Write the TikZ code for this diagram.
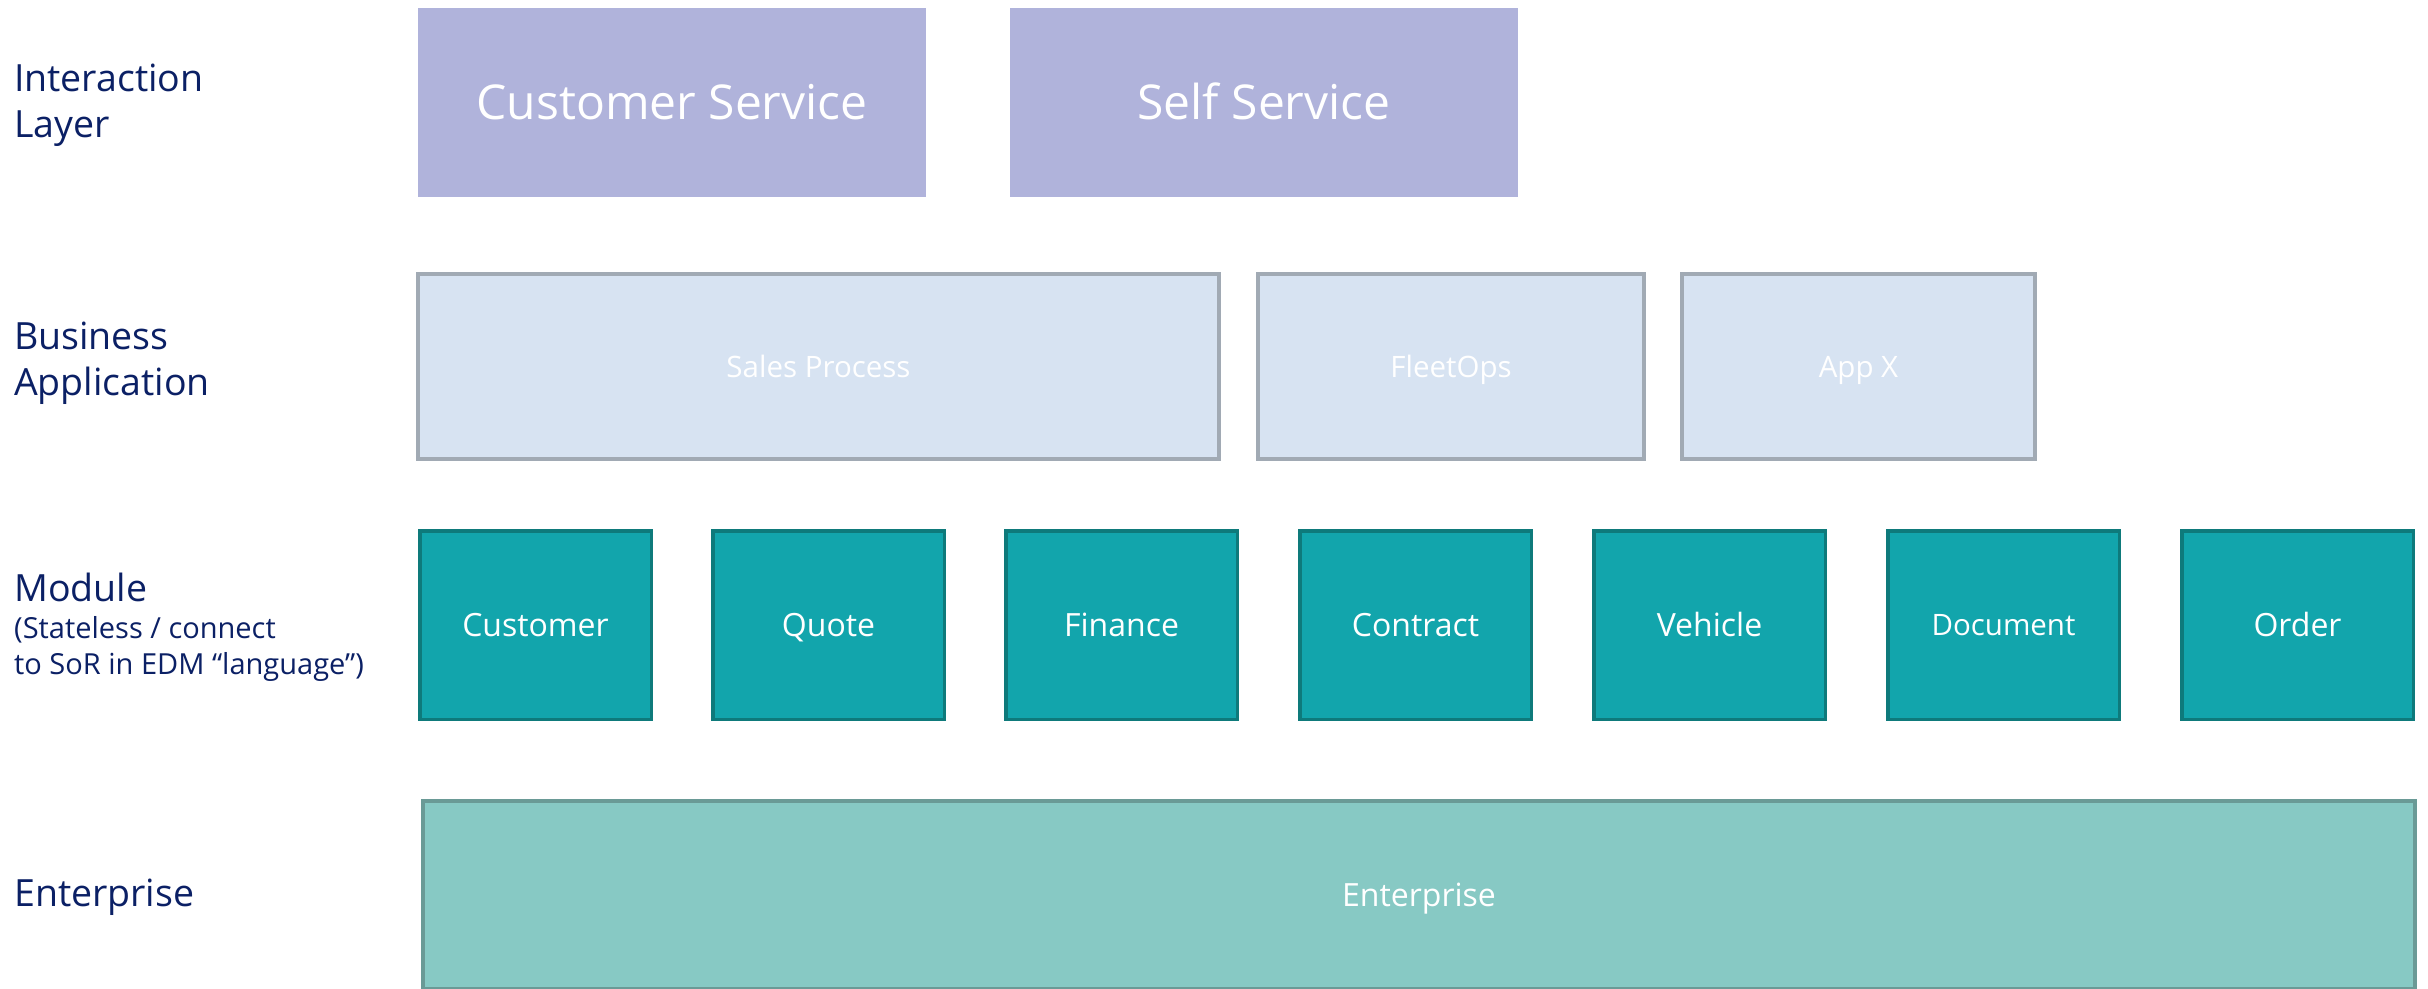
\documentclass[tikz,border=0pt]{standalone}
\usepackage{fontspec}
\setmainfont{Open Sans}
\definecolor{navy}{HTML}{0B2065}
\definecolor{iaFill}{HTML}{B0B3DB}
\definecolor{baFill}{HTML}{D7E3F2}
\definecolor{baLine}{HTML}{A1AAB4}
\definecolor{modFill}{HTML}{12A5AC}
\definecolor{modLine}{HTML}{0E7A7B}
\definecolor{entFill}{HTML}{87C9C4}
\definecolor{entLine}{HTML}{6A9A96}
\tikzset{
  box/.style={rectangle, inner sep=0pt, text=white},
  sz48/.style={font=\fontsize{48}{58}\selectfont, text height=45.6pt, text depth=11.3pt},
  sz32/.style={font=\fontsize{32}{38}\selectfont, text height=30.4pt, text depth=7.55pt},
  sz29/.style={font=\fontsize{29.5}{35}\selectfont, text height=28pt, text depth=7pt},
  ia/.style={box, sz48, fill=iaFill, minimum width=508pt, minimum height=189pt},
  ba/.style={box, sz29, fill=baFill, draw=baLine, line width=4pt, minimum height=185pt},
  mod/.style={box, sz32, fill=modFill, draw=modLine, line width=3.5pt, minimum width=231.5pt, minimum height=188.5pt},
  ent/.style={box, sz32, fill=entFill, draw=entLine, line width=4pt, minimum width=1992pt, minimum height=188pt},
  lbl/.style={anchor=base west, align=left, inner sep=0pt, text=navy, font=\fontsize{37.5}{45.5}\selectfont},
  sublbl/.style={lbl, font=\fontsize{29}{36}\selectfont},
}
\begin{document}
\begin{tikzpicture}[x=1pt,y=-1pt]
\useasboundingbox (0,0) rectangle (2428,988);
\clip (0,0) rectangle (2428,988);
% row labels (base = baseline of the last line)
\node[lbl] (lInt) at (14,137) {Interaction\\Layer};
\node[lbl] (lBus) at (14,395) {Business\\Application};
\node[lbl] (lMod) at (14,601) {Module};
\node[sublbl] (lModSub) at (14,674) {(Stateless / connect\\to SoR in EDM “language”)};
\node[lbl] (lEnt) at (14,906) {Enterprise};
% interaction layer
\node[ia] (cs) at (672,102.5) {Customer Service};
\node[ia] (ss) at (1264,102.5) {Self Service};
% business application
\node[ba, minimum width=801pt] (sales) at (818.5,366.5) {Sales Process};
\node[ba, minimum width=386pt] (fleet) at (1451,366.5) {FleetOps};
\node[ba, minimum width=353pt] (appx) at (1858.5,366.5) {App X};
% modules
\node[mod] (mCust) at (535.5,625) {Customer};
\node[mod] (mQuote) at (828.5,625) {Quote};
\node[mod] (mFin) at (1121.5,625) {Finance};
\node[mod] (mCon) at (1415.5,625) {Contract};
\node[mod] (mVeh) at (1709.5,625) {Vehicle};
\node[mod, sz29] (mDoc) at (2003.5,625) {Document};
\node[mod] (mOrd) at (2297.5,625) {Order};
% enterprise
\node[ent] (ent) at (1419,895) {Enterprise};
\end{tikzpicture}
\end{document}
